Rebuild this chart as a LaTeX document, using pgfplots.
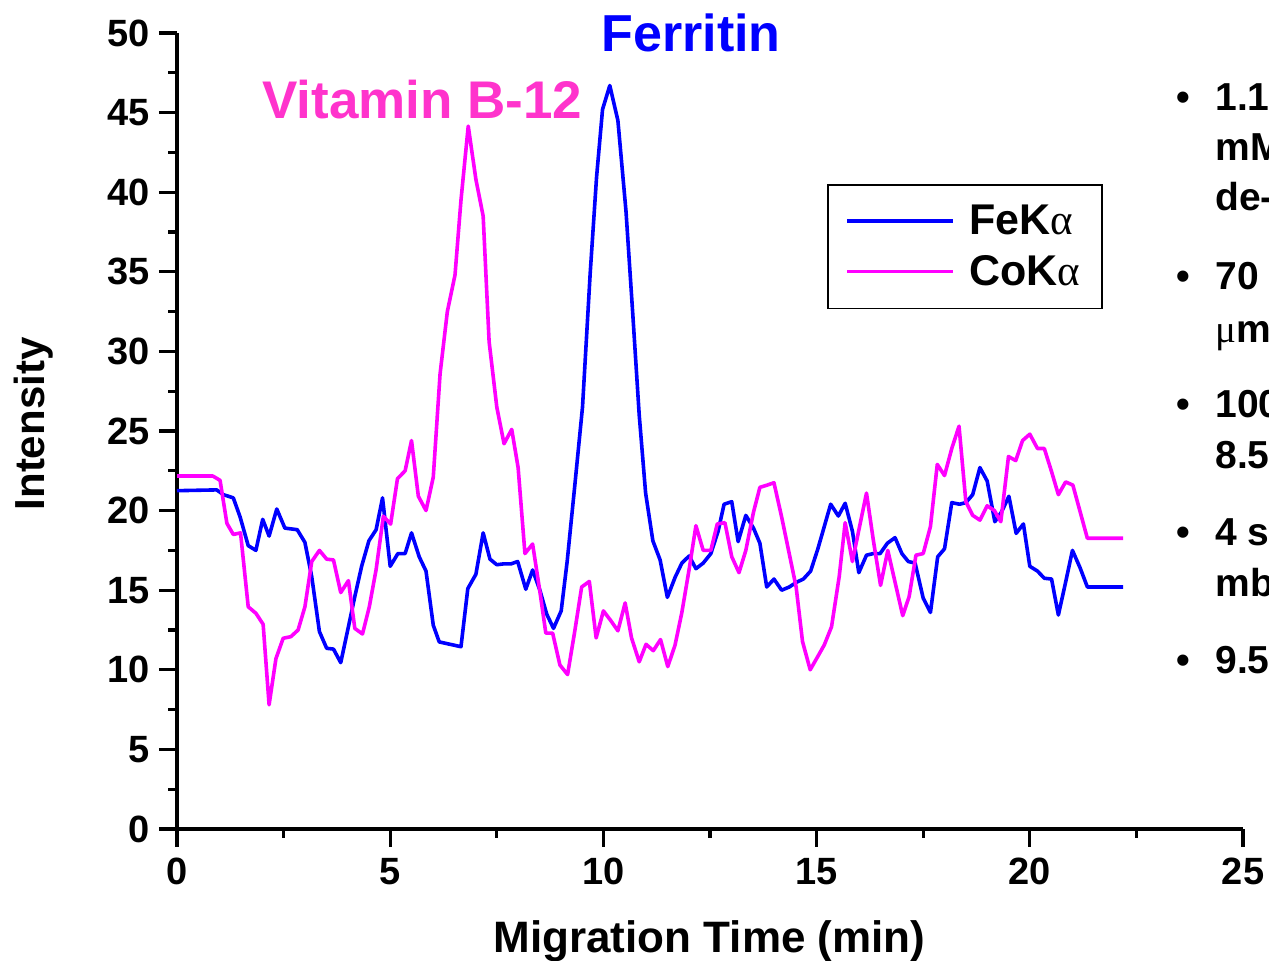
\documentclass[border=0pt]{standalone}
\usepackage{pgfplots}
\pgfplotsset{compat=1.18}
\usepackage{fontspec}
\setmainfont{Liberation Sans}
\newfontfamily\greekfont{Liberation Serif}
\definecolor{feblue}{RGB}{0,0,255}
\definecolor{comag}{RGB}{255,0,255}
\definecolor{vitpink}{RGB}{255,51,204}
\pgfplotstableread{
x y
0.00 21.25
0.93 21.3
1.09 21.0
1.32 20.8
1.48 19.6
1.67 17.8
1.85 17.5
2.01 19.45
2.16 18.4
2.34 20.1
2.53 18.9
2.82 18.8
3.00 18.0
3.16 15.85
3.34 12.4
3.51 11.35
3.67 11.3
3.84 10.45
4.02 12.7
4.17 14.6
4.33 16.5
4.50 18.1
4.67 18.8
4.82 20.8
5.00 16.5
5.18 17.3
5.35 17.3
5.50 18.6
5.68 17.1
5.84 16.2
6.01 12.8
6.15 11.75
6.66 11.45
6.82 15.1
7.01 16.0
7.18 18.6
7.34 16.95
7.50 16.6
7.65 16.65
7.83 16.65
7.99 16.8
8.18 15.06
8.34 16.27
8.51 15.0
8.67 13.5
8.83 12.6
9.01 13.7
9.15 16.8
9.33 21.6
9.51 26.5
9.69 34.9
9.84 40.96
9.98 45.2
10.15 46.7
10.34 44.5
10.53 38.8
10.69 32.3
10.84 26.0
10.99 21.1
11.16 18.1
11.33 16.9
11.50 14.55
11.68 15.8
11.84 16.7
12.01 17.15
12.17 16.35
12.34 16.7
12.52 17.3
12.69 18.7
12.83 20.4
13.01 20.56
13.16 18.05
13.34 19.7
13.52 18.9
13.67 17.95
13.83 15.2
14.00 15.7
14.18 15.0
14.36 15.2
14.53 15.5
14.69 15.7
14.86 16.2
15.03 17.6
15.18 19.0
15.33 20.4
15.51 19.66
15.67 20.46
15.84 18.7
15.99 16.1
16.17 17.2
16.33 17.3
16.49 17.3
16.66 17.95
16.84 18.3
17.00 17.3
17.15 16.8
17.31 16.7
17.50 14.5
17.67 13.6
17.84 17.1
18.00 17.6
18.17 20.5
18.35 20.4
18.50 20.5
18.66 21.0
18.83 22.7
19.00 21.86
19.18 19.3
19.34 19.93
19.51 20.9
19.68 18.57
19.85 19.16
20.00 16.5
20.18 16.2
20.34 15.75
20.51 15.7
20.67 13.44
20.84 15.5
21.00 17.5
21.18 16.4
21.35 15.2
22.19 15.2
}\fedata
\pgfplotstableread{
x y
0.00 22.17
0.84 22.17
1.01 21.9
1.17 19.2
1.32 18.5
1.49 18.6
1.67 13.96
1.85 13.55
2.02 12.86
2.16 7.8
2.32 10.7
2.49 11.98
2.67 12.08
2.84 12.5
3.00 13.96
3.16 16.8
3.34 17.5
3.51 16.95
3.67 16.9
3.84 14.85
4.02 15.6
4.17 12.6
4.35 12.25
4.51 13.96
4.67 16.3
4.84 19.65
5.01 19.15
5.17 22.0
5.35 22.5
5.50 24.4
5.66 20.9
5.84 20.0
6.01 22.1
6.17 28.6
6.34 32.5
6.52 34.8
6.66 39.5
6.83 44.15
7.01 40.8
7.18 38.5
7.32 30.6
7.50 26.5
7.67 24.2
7.85 25.1
8.00 22.7
8.16 17.3
8.34 17.9
8.50 15.1
8.65 12.3
8.81 12.3
8.98 10.3
9.16 9.7
9.33 12.45
9.49 15.2
9.67 15.55
9.83 12.0
10.00 13.7
10.17 13.1
10.34 12.45
10.51 14.2
10.66 12.0
10.84 10.5
11.00 11.6
11.17 11.2
11.34 11.9
11.51 10.2
11.68 11.55
11.84 13.6
12.01 16.3
12.17 19.05
12.34 17.5
12.52 17.5
12.67 19.16
12.85 19.24
13.01 17.1
13.18 16.1
13.34 17.5
13.52 19.9
13.67 21.46
13.84 21.6
14.00 21.75
14.18 19.6
14.35 17.4
14.52 15.2
14.67 11.77
14.85 10.0
15.02 10.8
15.18 11.56
15.35 12.7
15.53 15.85
15.67 19.24
15.84 16.8
16.00 18.9
16.17 21.1
16.33 18.15
16.50 15.3
16.67 17.5
16.84 15.5
17.02 13.4
17.17 14.6
17.33 17.2
17.50 17.3
17.67 19.0
17.83 22.9
18.00 22.2
18.17 23.9
18.34 25.3
18.50 20.56
18.66 19.7
18.83 19.4
19.00 20.3
19.17 20.0
19.32 19.3
19.50 23.4
19.67 23.14
19.83 24.4
20.00 24.8
20.18 23.9
20.34 23.9
20.51 22.45
20.67 21.0
20.84 21.8
21.01 21.6
21.18 19.93
21.35 18.26
22.19 18.26
}\codata
\begin{document}
\begin{tikzpicture}
\useasboundingbox (0,0) rectangle (634.5pt,480.5pt);
\begin{axis}[
  at={(88.5pt,66pt)}, anchor=south west,
  scale only axis, width=533pt, height=398pt,
  xmin=0, xmax=25, ymin=0, ymax=50,
  axis lines*=left,
  axis line style={line width=1.6pt},
  xtick={0,5,...,25}, ytick={0,5,...,50},
  minor x tick num=1, minor y tick num=1,
  tick align=outside,
  major tick length=9pt, minor tick length=4.5pt,
  every tick/.style={black, line width=1.6pt},
  tick label style={font=\fontsize{19}{21}\selectfont\bfseries},
  yticklabel style={xshift=-1pt},
  xticklabel style={yshift=-2pt},
  /pgf/number format/assume math mode=true,
  clip=false,
  legend style={at={(0.6098,0.8103)}, anchor=north west, draw=black, line width=0.8pt,
    font=\fontsize{21.5}{24}\selectfont\bfseries, inner xsep=9pt, inner ysep=8pt,
    row sep=5pt, column sep=5pt},
  legend cell align=left,
  legend image code/.code={\draw[#1, line width=1.6pt] (0pt,0pt) -- (53pt,0pt);},
]
\addplot[feblue, line width=1.8pt, line join=round] table[x=x,y=y] {\fedata};
\addlegendentry{FeK{\greekfont\mdseries α}}
\addplot[comag, line width=1.8pt, line join=round] table[x=x,y=y] {\codata};
\addlegendentry{CoK{\greekfont\mdseries α}}
\end{axis}
\node[anchor=base west, inner sep=0pt, font=\fontsize{26}{30}\selectfont\bfseries, text=feblue] at (300.5pt,454.5pt) {Ferritin};
\node[anchor=base west, inner sep=0pt, font=\fontsize{26.5}{30}\selectfont\bfseries, text=vitpink] at (131pt,421pt) {Vitamin B-12};
\node[anchor=base, inner sep=0pt, rotate=90, font=\fontsize{21}{24}\selectfont\bfseries] at (22pt,268.5pt) {Intensity};
\node[anchor=base, inner sep=0pt, font=\fontsize{22}{24}\selectfont\bfseries] at (354.75pt,4pt) {Migration Time (min)};
\begin{scope}[every node/.style={anchor=base west, inner sep=0pt, font=\fontsize{19.5}{22}\selectfont\bfseries}]
\node at (588pt,425pt) {•};
\node at (607.5pt,425pt) {1.1};
\node at (607.5pt,400pt) {mM};
\node at (607.5pt,375pt) {de-};
\node at (588pt,335.5pt) {•};
\node at (607.5pt,335.5pt) {70};
\node at (607.5pt,309pt) {{\greekfont\mdseries μ}m};
\node at (588pt,271.5pt) {•};
\node at (607.5pt,271.5pt) {100};
\node at (607.5pt,246pt) {8.5};
\node at (588pt,207.5pt) {•};
\node at (607.5pt,207.5pt) {4 s};
\node at (607.5pt,182pt) {mb};
\node at (588pt,143.5pt) {•};
\node at (607.5pt,143.5pt) {9.5};
\end{scope}
\end{tikzpicture}
\end{document}
